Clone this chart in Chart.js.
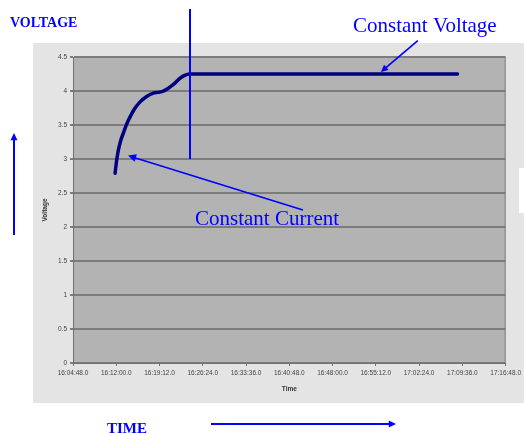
<!DOCTYPE html>
<html>
<head>
<meta charset="utf-8">
<script src="https://cdn.jsdelivr.net/npm/chart.js@4/dist/chart.umd.min.js"></script>
<style>
  html, body { margin: 0; padding: 0; background: #ffffff; }
  #wrap { width: 524px; height: 433px; position: relative; }
</style>
</head>
<body>
<div id="wrap"><canvas id="c" width="524" height="433"></canvas></div>
<script>
// Charge log: seconds elapsed since 16:04:48 and the cell voltage at that moment
const timeSeconds = [420, 436, 453, 476, 503, 535, 570, 615, 670, 735, 803, 845, 887, 930, 970, 1020, 1070, 1115, 1160, 3840];
const voltage     = [2.79, 2.98, 3.13, 3.27, 3.38, 3.51, 3.62, 3.74, 3.84, 3.92, 3.97, 3.98, 3.99, 4.02, 4.06, 4.12, 4.19, 4.23, 4.25, 4.25];

// Axis tick labels, one per 7 min 12 s step
const timeTickLabels = ['16:04:48.0', '16:12:00.0', '16:19:12.0', '16:26:24.0', '16:33:36.0', '16:40:48.0',
                        '16:48:00.0', '16:55:12.0', '17:02:24.0', '17:09:36.0', '17:16:48.0'];
const voltageTickValues = [0, 0.5, 1, 1.5, 2, 2.5, 3, 3.5, 4, 4.5];
const timeStep = 432;

// Callouts, anchored in data units (seconds, volts)
const switchPoint = { t: 1168, v: 3.0 };
const cvArrow = { from: { t: 3443, v: 4.74 }, to: { t: 3074, v: 4.28 } };
const ccArrow = { from: { t: 2296, v: 2.25 }, to: { t: 549, v: 3.05 } };

const BLUE = '#0000ff';

function arrow(ctx, x1, y1, x2, y2, head) {
  const a = Math.atan2(y2 - y1, x2 - x1);
  ctx.beginPath();
  ctx.moveTo(x1, y1);
  ctx.lineTo(x2 - Math.cos(a) * head * 0.6, y2 - Math.sin(a) * head * 0.6);
  ctx.stroke();
  ctx.beginPath();
  ctx.moveTo(x2, y2);
  ctx.lineTo(x2 - head * Math.cos(a - 0.45), y2 - head * Math.sin(a - 0.45));
  ctx.lineTo(x2 - head * Math.cos(a + 0.45), y2 - head * Math.sin(a + 0.45));
  ctx.closePath();
  ctx.fill();
}

const backdrop = {
  id: 'backdrop',
  beforeDraw(chart) {
    const ctx = chart.ctx;
    const ca = chart.chartArea;
    ctx.save();
    ctx.fillStyle = '#ffffff';
    ctx.fillRect(0, 0, chart.width, chart.height);
    // light grey chart panel
    ctx.fillStyle = '#e4e4e4';
    ctx.fillRect(33, 43, chart.width - 33, 360);
    ctx.fillStyle = '#ffffff';
    ctx.fillRect(519, 168, 5, 45);
    // plot area
    ctx.fillStyle = '#b3b3b3';
    ctx.fillRect(ca.left, ca.top, ca.right - ca.left, ca.bottom - ca.top);
    ctx.restore();
  },
  afterDatasetsDraw(chart) {
    const ctx = chart.ctx;
    const ca = chart.chartArea;
    ctx.save();
    ctx.strokeStyle = '#808080';
    ctx.lineWidth = 1;
    ctx.beginPath();
    ctx.moveTo(ca.right - 0.5, ca.top);
    ctx.lineTo(ca.right - 0.5, ca.bottom);
    ctx.stroke();
    ctx.restore();
  },
  afterDraw(chart) {
    const ctx = chart.ctx;
    const xs = chart.scales.x, ys = chart.scales.y;
    const px = t => xs.getPixelForValue(t);
    const py = v => ys.getPixelForValue(v);
    ctx.save();
    ctx.strokeStyle = BLUE;
    ctx.fillStyle = BLUE;
    ctx.lineWidth = 2;

    // CC -> CV switch marker
    const sx = Math.round(px(switchPoint.t));
    ctx.beginPath();
    ctx.moveTo(sx, py(switchPoint.v));
    ctx.lineTo(sx, 9);
    ctx.stroke();

    // callout arrows
    ctx.lineWidth = 1.6;
    arrow(ctx, px(cvArrow.from.t), py(cvArrow.from.v), px(cvArrow.to.t), py(cvArrow.to.v), 8);
    arrow(ctx, px(ccArrow.from.t), py(ccArrow.from.v), px(ccArrow.to.t), py(ccArrow.to.v), 9);

    // outer direction arrows
    ctx.lineWidth = 2;
    arrow(ctx, 14, 235, 14, 133, 8);
    arrow(ctx, 211, 424, 396, 424, 8);

    // labels
    ctx.textBaseline = 'alphabetic';
    ctx.textAlign = 'left';
    ctx.font = '21px "Liberation Serif", serif';
    ctx.fillText('Constant Voltage', 353, 32);
    ctx.fillText('Constant Current', 195, 225);
    ctx.font = 'bold 14px "Liberation Serif", serif';
    ctx.fillText('VOLTAGE', 10, 27);
    ctx.font = 'bold 15px "Liberation Serif", serif';
    ctx.fillText('TIME', 107, 433);
    ctx.restore();
  }
};

new Chart(document.getElementById('c'), {
  type: 'line',
  data: {
    datasets: [{
      data: timeSeconds.map((t, i) => ({ x: t, y: voltage[i] })),
      borderColor: '#000080',
      borderWidth: 3.5,
      pointRadius: 0,
      cubicInterpolationMode: 'monotone',
      borderCapStyle: 'round',
      borderJoinStyle: 'round',
      fill: false
    }]
  },
  options: {
    responsive: false,
    animation: false,
    devicePixelRatio: 1,
    layout: { padding: { left: 41, top: 57, right: 18, bottom: 40 } },
    plugins: { legend: { display: false }, tooltip: { enabled: false } },
    scales: {
      x: {
        type: 'linear',
        min: 0,
        max: timeStep * (timeTickLabels.length - 1),
        afterBuildTicks(scale) {
          scale.ticks = timeTickLabels.map((_, i) => ({ value: i * timeStep }));
        },
        afterFit(scale) { scale.height = 30; },
        ticks: {
          autoSkip: false,
          maxRotation: 0,
          padding: 3,
          color: '#444444',
          font: { family: 'Liberation Sans', size: 6.5 },
          callback: (v) => timeTickLabels[Math.round(v / timeStep)]
        },
        grid: { drawOnChartArea: false, drawTicks: true, tickLength: 3, color: '#707070' },
        border: { color: '#707070', width: 1 },
        title: { display: true, text: 'Time', color: '#333333', padding: { top: 3, bottom: 0 },
                 font: { family: 'Liberation Sans', size: 6.5, weight: 'bold' } }
      },
      y: {
        min: 0,
        max: 4.5,
        afterBuildTicks(scale) {
          scale.ticks = voltageTickValues.map(v => ({ value: v }));
        },
        afterFit(scale) { scale.width = 32; },
        ticks: {
          padding: 3,
          color: '#444444',
          font: { family: 'Liberation Sans', size: 6.5 },
          callback: (v) => String(v)
        },
        grid: { color: '#7c7c7c', lineWidth: 2, tickLength: 3, drawTicks: true },
        border: { color: '#707070', width: 1 },
        title: { display: true, text: 'Voltage', color: '#333333', padding: { top: 0, bottom: 2 },
                 font: { family: 'Liberation Sans', size: 6.5, weight: 'bold' } }
      }
    }
  },
  plugins: [backdrop]
});
</script>
</body>
</html>
